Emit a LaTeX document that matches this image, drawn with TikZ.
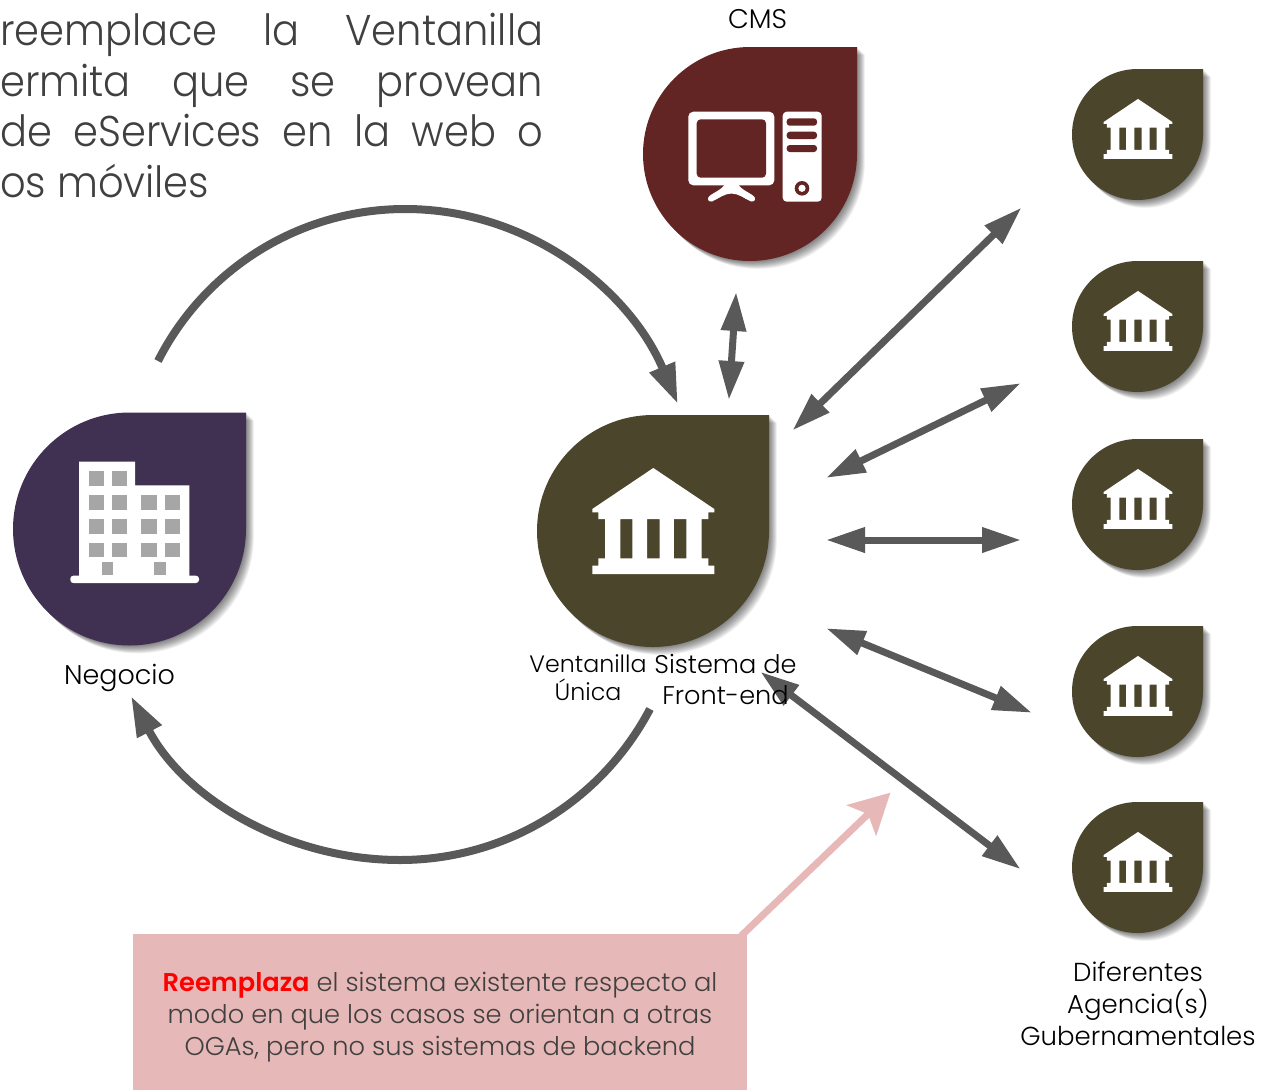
\documentclass[tikz,border=0pt]{standalone}
\usepackage{fontspec}
\setmainfont{Poppins Light}[BoldFont={Poppins SemiBold}]
\usetikzlibrary{arrows.meta}
\definecolor{oliva}{HTML}{4B452C}
\definecolor{vino}{HTML}{632523}
\definecolor{morado}{HTML}{403152}
\definecolor{flecha}{HTML}{595959}
\definecolor{rosa}{HTML}{E6B8B7}
\definecolor{textogris}{HTML}{404040}
\definecolor{ventana}{HTML}{A6A6A6}
\tikzset{
  dropshape/.style={insert path={(0,-116) -- (116,-116) -- (116,0)
    .. controls (116,64) and (64,116) .. (0,116)
    .. controls (-64,116) and (-116,64) .. (-116,0)
    .. controls (-116,-64) and (-64,-116) .. (0,-116) -- cycle}},
  twoway/.style={draw=flecha,line width=7pt,shorten <=-2pt,shorten >=-2pt,{Triangle[length=39pt,width=24pt]}-{Triangle[length=39pt,width=24pt]}},
  arcarrow/.style={draw=flecha,line width=8pt,shorten >=-2pt,-{Triangle[length=40pt,width=26pt]}},
  pinkarrow/.style={draw=rosa,line width=7pt,shorten >=-2pt,-{Stealth[length=40pt,width=42pt,inset=9pt]}},
  lbl/.style={text=black,align=center,inner sep=0pt},
  bigtext/.style={anchor=base west,inner sep=0pt,text=textogris,font=\fontsize{43}{51}\selectfont\addfontfeature{FakeStretch=0.93}},
}
\newcommand{\dropat}[5]{%
  \coordinate (#1) at (#2,#3);
  \foreach \t in {0.5,1,...,10}{
    \begin{scope}[shift={(#2+0.8*\t,#3+0.8*\t)},scale=#4/116]
      \path[fill=black,opacity=.03,dropshape];
    \end{scope}
  }
  \begin{scope}[shift={(#2,#3)},scale=#4/116]
    \path[fill=#5,dropshape];
  \end{scope}}
\newcommand{\bankicon}[3]{%
  \begin{scope}[shift={(#1,#2)},scale=#3/116]
    \path[fill=white,even odd rule]
      (0,-63) -- (61,-22) -- (61,-18.7) -- (55,-18.7) -- (55,-12) -- (48.3,-12) -- (48.3,27.3)
      -- (55,27.3) -- (55,34.7) -- (61,34.7) -- (61,43) -- (-61,43) -- (-61,34.7) -- (-55,34.7)
      -- (-55,27.3) -- (-48.3,27.3) -- (-48.3,-12) -- (-55,-12) -- (-55,-18.7) -- (-61,-18.7) -- (-61,-22) -- cycle
      (-33,-12) rectangle (-21,27.3)
      (-6.3,-12) rectangle (6.3,27.3)
      (20.5,-12) rectangle (33,27.3);
  \end{scope}}
\begin{document}
\begin{tikzpicture}[x=1pt,y=-1pt]
\useasboundingbox (0,0) rectangle (1261,1090);

% top paragraph
\node[bigtext] (linea1) at (0,45) {\hbox to 543pt{reemplace\hfill la\hfill Ventanilla}};
\node[bigtext] (linea2) at (0,96) {\hbox to 543pt{ermita\hfill que\hfill se\hfill provean}};
\node[bigtext] (linea3) at (0,146) {\hbox to 543pt{de\hfill eServices\hfill en\hfill la\hfill web\hfill o}};
\node[bigtext] (linea4) at (0,197) {os móviles};

% drops
\dropat{cms}{750}{154}{107}{vino}
\dropat{negocio}{129.5}{529}{116.5}{morado}
\dropat{ventanilla}{653}{531}{116}{oliva}
\dropat{ag1}{1137.5}{134.5}{65.5}{oliva}
\dropat{ag2}{1137.5}{326.5}{65.5}{oliva}
\dropat{ag3}{1137.5}{504.5}{65.5}{oliva}
\dropat{ag4}{1137.5}{691.5}{65.5}{oliva}
\dropat{ag5}{1137.5}{867.5}{65.5}{oliva}

% bank icons
\bankicon{653.3}{531}{116}
\bankicon{1138}{134.5}{65.5}
\bankicon{1138}{326.5}{65.5}
\bankicon{1138}{504.5}{65.5}
\bankicon{1138}{691.5}{65.5}
\bankicon{1138}{867.5}{65.5}

% computer icon
\path[fill=white,rounded corners=5pt] (688.3,111.7) rectangle (774.3,185.3);
\path[fill=vino,rounded corners=4pt] (696.7,119.3) rectangle (766,177.7);
\path[fill=white] (725,184) .. controls (722,190) and (712,193) .. (708.5,197)
  .. controls (707,200) and (709,202) .. (712,201.5)
  .. controls (718,199) and (724,193.5) .. (731.5,193.5)
  .. controls (739,193.5) and (745,199) .. (751,201.5)
  .. controls (754,202) and (756,200) .. (754.5,197)
  .. controls (751,193) and (741,190) .. (738,184) -- cycle;
\path[fill=white,rounded corners=4pt] (782.7,111.7) rectangle (821.7,201.7);
\path[fill=vino,rounded corners=3pt] (786.7,118.3) rectangle (817,125.7);
\path[fill=vino,rounded corners=3pt] (786.7,131.7) rectangle (817,139);
\path[fill=vino,rounded corners=3pt] (786.7,145) rectangle (817,152);
\path[fill=vino] (802,188.3) circle[radius=7.3pt];
\path[fill=white] (802,188.3) circle[radius=3.6pt];

% office icon
\path[fill=white] (79,461.7) -- (135,461.7) -- (135,485.3) -- (189.3,485.3) -- (189.3,577) -- (79,577) -- cycle;
\path[fill=white,rounded corners=3pt] (70.3,575.7) rectangle (199,583);
\foreach \xa/\xb in {88.7/103.7,112/127}{
  \path[fill=ventana] (\xa,470.7) rectangle (\xb,485.7);
}
\foreach \xa/\xb in {88.7/103.7,112/127,141/156.7,164.7/179.7}{
  \path[fill=ventana] (\xa,494.7) rectangle (\xb,509.7);
  \path[fill=ventana] (\xa,518.7) rectangle (\xb,533.7);
  \path[fill=ventana] (\xa,542.7) rectangle (\xb,557.3);
}
\path[fill=ventana] (102,562.3) rectangle (113.3,575);
\path[fill=ventana] (154.3,562.3) rectangle (165.7,575);

% labels
\node[lbl,font=\fontsize{27}{32}\selectfont] (lcms) at (757.5,19) {CMS};
\node[lbl,font=\fontsize{27}{32}\selectfont] (lnegocio) at (119.5,678) {Negocio};
\node[lbl,font=\fontsize{23.7}{28}\selectfont] (lventanilla) at (588,678) {Ventanilla\\Única};
\node[lbl,font=\fontsize{26}{32}\selectfont] (lagencias) at (1138,1004) {Diferentes\\Agencia(s)\\Gubernamentales};

% note box
\node[fill=rosa,minimum width=614pt,minimum height=156pt,inner sep=0pt] (nota) at (440,1012) {};
\node[inner sep=0pt,align=center,text=textogris,font=\fontsize{25.7}{32}\selectfont] (notatexto) at (440,1017)
  {\textcolor{red}{\bfseries Reemplaza} el sistema existente respecto al\\modo en que los casos se orientan a otras\\OGAs, pero no sus sistemas de backend};

% free ends of connectors
\coordinate (a1a) at (794,429); \coordinate (a1b) at (1020,209);
\coordinate (a2a) at (828,477); \coordinate (a2b) at (1019,384);
\coordinate (a3a) at (828,540); \coordinate (a3b) at (1019,540);
\coordinate (a4a) at (828,629); \coordinate (a4b) at (1030,712);
\coordinate (a5a) at (762,673); \coordinate (a5b) at (1019,868);
\coordinate (cmsa) at (736,294); \coordinate (cmsb) at (729,398);
\coordinate (pinka) at (741,936); \coordinate (pinkb) at (889,794);
\coordinate (upa) at (158,361); \coordinate (upm) at (405,209); \coordinate (upb) at (677,402);
\coordinate (loa) at (650,709); \coordinate (lom) at (400,860); \coordinate (lob) at (132,698);

% connectors
\draw[twoway] (a1a) -- (a1b);
\draw[twoway] (a2a) -- (a2b);
\draw[twoway] (a3a) -- (a3b);
\draw[twoway] (a4a) -- (a4b);
\draw[twoway] (a5a) -- (a5b);
\draw[twoway] (cmsa) -- (cmsb);
\draw[pinkarrow] (pinka) -- (pinkb);
\draw[arcarrow] (upa) .. controls (205,268) and (300.5,209) .. (upm) .. controls (528,209) and (629,289) .. (upb);
\draw[arcarrow] (loa) .. controls (601,802) and (505,860) .. (lom) .. controls (287,860) and (184,798) .. (lob);

% label printed over the arrow
\node[lbl,font=\fontsize{25.6}{31}\selectfont] (lsistema) at (725.5,679) {Sistema de\\Front-end};
\end{tikzpicture}
\end{document}
